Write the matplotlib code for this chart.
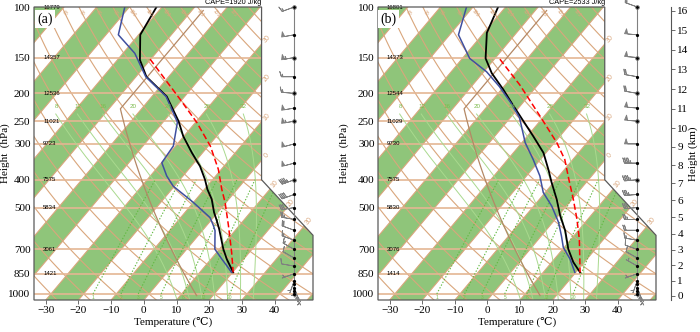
import numpy as np
import matplotlib
matplotlib.use('Agg')
import matplotlib.pyplot as plt
from matplotlib.patches import Polygon

plt.rcParams['font.family'] = ['Liberation Serif', 'DejaVu Serif', 'DejaVu Sans']

# ============================================================
# DATA
# ============================================================
P_TICKS = [100, 150, 200, 250, 300, 400, 500, 700, 850, 1000]
T_TICKS = [-30, -20, -10, 0, 10, 20, 30, 40]

HGT_P = [100, 150, 200, 250, 300, 400, 500, 700, 850]
HGT_A = ['16779', '14357', '12536', '11021', '9723', '7575', '5834', '3061', '1421']
HGT_B = ['16801', '14373', '12544', '11029', '9730', '7575', '5830', '3076', '1414']

CAPE_A = 1920
CAPE_B = 2533

# panel (a) sounding
TEMP_A_P = [100, 125, 153, 175, 205, 250, 282, 322, 359, 399, 432, 468, 520, 556, 595, 698, 756, 841]
TEMP_A_T = [-71.7, -69.5, -63.1, -56.8, -45.5, -35.5, -30.2, -23.3, -17.3, -12.4, -9.1, -5.2, -1.1, 1.9, 4.8, 11.2, 14.8, 20.2]
DEWP_A_P = [100, 125, 145, 175, 205, 252, 305, 349, 388, 421, 480, 542, 578, 602, 698, 756, 797, 841]
DEWP_A_T = [-81.4, -76.2, -66.4, -57.0, -45.7, -35.6, -30.7, -29.9, -25.0, -20.4, -10.0, -1.0, 2.1, 3.9, 8.6, 13.3, 16.5, 19.7]
PARC_A_P = [152, 179, 210, 253, 305, 368, 432, 480, 578, 717, 841]
PARC_A_T = [-60.2, -50.3, -40.6, -29.5, -19.4, -10.9, -4.7, -0.3, 6.7, 14.6, 20.2]

# panel (b) sounding
TEMP_B_P = [100, 123, 151, 170, 194, 216, 240, 282, 322, 368, 409, 468, 534, 602, 698, 775, 841]
TEMP_B_T = [-72.3, -69.1, -62.9, -57.2, -49.4, -43.4, -37.4, -28.2, -20.8, -15.0, -10.6, -4.7, 0.6, 6.0, 11.7, 16.6, 21.3]
DEWP_B_P = [100, 125, 151, 168, 189, 216, 243, 297, 340, 388, 443, 494, 563, 628, 688, 756, 841]
DEWP_B_T = [-82.0, -77.3, -67.8, -59.2, -51.5, -43.6, -37.2, -29.0, -22.2, -15.9, -10.6, -4.5, 1.8, 6.2, 9.7, 14.8, 19.7]
PARC_B_P = [152, 187, 240, 297, 340, 399, 468, 550, 644, 756, 841]
PARC_B_T = [-58.3, -45.5, -31.3, -19.3, -12.5, -6.1, 0.4, 6.7, 12.5, 17.8, 21.3]

# winds (kt, direction deg)
WIND_P = [100, 125, 150, 175, 200, 225, 250, 300, 350, 400, 450, 500,
          550, 600, 650, 700, 750, 800, 850, 900, 925, 950, 975, 1000]
WSPD_A = [15, 50, 55, 15, 15, 50, 55, 50, 50, 45, 40, 30, 25, 20, 15, 15, 10, 10, 5, 5, 5, 5, 5, 5]
WDIR_A = [250, 260, 260, 270, 275, 260, 260, 255, 255, 250, 250, 260, 280, 290, 290, 300, 300, 280, 250, 200, 180, 160, 150, 150]
WSPD_B = [15, 50, 50, 20, 20, 50, 50, 50, 45, 45, 35, 30, 25, 20, 15, 10, 10, 5, 5, 5, 5, 5, 5, 5]
WDIR_B = [290, 275, 275, 280, 280, 275, 275, 270, 270, 265, 265, 265, 270, 270, 280, 290, 300, 300, 250, 200, 180, 160, 150, 150]
CIRCLE_P = [100, 150, 200, 250, 400]

MIX_W = [1, 2, 3, 5, 8, 12, 20]
MOIST_T = [8, 12, 16, 20, 24, 28, 32]

# ============================================================
# STYLE
# ============================================================
GREEN_BAND = '#8fc57a'
TAN = '#d9a67c'
ISOBAR = '#e4b693'
MOIST = '#a9d98e'
MIXC = '#62b942'
LABG = '#7cbb4c'
STDC = '#b48865'
FRAME = '#5a5a5a'

YB, YT = -0.9346217, 44.061
XL, XR1, XR2 = -19.0, 18.6, 27.1
Y_C1, Y_C2 = 17.53479, 9.0


def yc(p):
    return 132.182 - 44.061 * np.log10(np.asarray(p, dtype=float))


def xc(t, p):
    return 0.54 * np.asarray(t, dtype=float) + 0.90692 * yc(p)


def std_atm_p(z):
    z = np.asarray(z, dtype=float)
    return np.where(z <= 11, 1013.25 * (1 - 0.0065 * z * 1000 / 288.15) ** 5.25588,
                    226.32 * np.exp(-(z - 11) * 1000 / 6341.62))


def moist_line(t0, p_top):
    Rd, cp, Lv, eps = 287.04, 1005.7, 2.501e6, 0.622

    def slope(T, p):
        es = 6.112 * np.exp(17.67 * (T - 273.15) / (T - 29.65))
        rs = eps * es / (p - es)
        return (Rd * T + Lv * rs) / p / (cp + Lv * Lv * rs * eps / (Rd * T * T))

    res_p, res_t = [], []
    for ps in (np.arange(1000.0, 1051.0, 2.0), np.arange(1000.0, p_top - 0.1, -2.0)):
        T = t0 + 273.15
        pts = [T]
        for i in range(1, len(ps)):
            dp = ps[i] - ps[i - 1]
            k1 = slope(T, ps[i - 1])
            k2 = slope(T + k1 * dp, ps[i])
            T = T + 0.5 * (k1 + k2) * dp
            pts.append(T)
        res_p.append(ps)
        res_t.append(np.array(pts) - 273.15)
    p = np.concatenate([res_p[0][::-1], res_p[1][1:]])
    t = np.concatenate([res_t[0][::-1], res_t[1][1:]])
    return p, t


def draw_panel(ax, tag, hgts, cape, tp, tt, dp_, dt, pp, pt, wspd, wdir, ylab_x):
    verts = [(XL, YT), (XR1, YT), (XR1, Y_C1), (XR2, Y_C2), (XR2, YB), (XL, YB)]
    clip = Polygon(verts, closed=True, transform=ax.transData)

    def clipped(arts):
        for a in arts:
            a.set_clip_path(clip)

    # isotherm bands
    for t0 in range(-110, 60, 20):
        xs = [xc(t0, 1050), xc(t0 + 10, 1050), xc(t0 + 10, 100), xc(t0, 100)]
        clipped(ax.fill(xs, [YB, YB, YT, YT], color=GREEN_BAND, lw=0, zorder=1))
    # isotherms
    for t in range(-110, 70, 10):
        clipped(ax.plot([xc(t, 1050), xc(t, 100)], [YB, YT], color=TAN, lw=0.8, zorder=2))
    # dry adiabats
    pr = np.logspace(2, np.log10(1050), 120)
    for th in range(-30, 180, 10):
        t = (th + 273.15) * (pr / 1000.0) ** 0.2857 - 273.15
        clipped(ax.plot(xc(t, pr), yc(pr), color=TAN, lw=0.8, zorder=2))
    # isobars
    for p in P_TICKS[1:]:
        clipped(ax.plot([XL, XR2], [yc(p), yc(p)], color=ISOBAR, lw=1.2, zorder=2.5))
    # moist adiabats
    for t0 in MOIST_T:
        mp, mt = moist_line(t0, 235.0)
        clipped(ax.plot(xc(mt, mp), yc(mp), color=MOIST, lw=0.7, zorder=3))
        ax.text(xc(mt[-1], 235.0), yc(222.0), str(t0), color=LABG, fontsize=4.5,
                ha='center', va='center', family='Liberation Sans', zorder=6)
    # mixing ratio
    pm = np.linspace(1000, 400, 60)
    for w in MIX_W:
        e = w * pm / (622.0 + w)
        le = np.log(e / 6.112)
        td = 243.5 * le / (17.67 - le)
        clipped(ax.plot(xc(td, pm), yc(pm), color=MIXC, lw=0.8, ls=(0, (1.2, 1.6)), zorder=3))
        ax.text(xc(td[0], 1000), yc(1000) - 0.55, str(w), color=LABG, fontsize=3.5,
                ha='center', va='center', family='Liberation Sans', zorder=6)
    # standard atmosphere
    zs = np.linspace(0, 16, 65)
    ts = np.where(zs <= 11, 15 - 6.5 * zs, -56.5)
    ax.plot(xc(ts, std_atm_p(zs)), yc(std_atm_p(zs)), color=STDC, lw=0.9, zorder=3.5)

    # dry adiabat labels at top and left edge
    for th in range(60, 170, 10):
        t = (th + 273.15) * 0.1 ** 0.2857 - 273.15
        ax.text(xc(t, 100) + 0.4, YT - 1.0, str(th), color=TAN, fontsize=3.5,
                rotation=-50, ha='center', va='center', family='Liberation Sans', zorder=6)
    for th in range(-30, 50, 10):
        t = (th + 273.15) * (pr / 1000.0) ** 0.2857 - 273.15
        xx = xc(t, pr)
        yy = np.interp(XL, xx[::-1], yc(pr)[::-1])
        if YB + 1 < yy < YT - 1:
            ax.text(XL + 0.6, yy - 1.0, str(th), color=TAN, fontsize=3.5,
                    rotation=-50, ha='center', va='center', family='Liberation Sans', zorder=6)
    # isotherm labels along the right border
    for t in [-30, -20, -10, 0]:
        y = (XR1 - 0.54 * t) / 0.90692
        ax.text(XR1 + 0.9, y + 0.7, str(abs(t)), color=TAN, fontsize=5, rotation=50,
                ha='center', va='center', family='Liberation Sans', zorder=6, clip_on=False)
    k = (Y_C1 - Y_C2) / (XR2 - XR1)
    for t in [10, 20, 30]:
        x = (0.54 * t + 0.90692 * (Y_C1 + k * XR1)) / (1 + 0.90692 * k)
        y = Y_C1 - k * (x - XR1)
        ax.text(x + 0.7, y + 0.7, str(t), color=TAN, fontsize=5, rotation=50,
                ha='center', va='center', family='Liberation Sans', zorder=6, clip_on=False)

    # frame
    ax.add_patch(Polygon(verts, closed=True, fill=False, ec=FRAME, lw=0.9, zorder=8, clip_on=False))

    # sounding
    ax.plot(xc(tt, tp), yc(tp), color='black', lw=1.3, zorder=5)
    ax.plot(xc(dt, dp_), yc(dp_), color='#3f4f9f', lw=1.1, zorder=5.2)
    ax.plot(xc(pt, pp), yc(pp), color='red', lw=1.1, ls=(0, (4, 2)), zorder=5.4)

    # heights
    for p, h in zip(HGT_P, hgts):
        ax.text(-17.5, yc(p), h, fontsize=4.3, ha='left', va='center',
                family='Liberation Sans', zorder=7, clip_on=False)

    ax.text(-17.2, 42.2, tag, fontsize=10, ha='center', va='center', zorder=9,
            bbox=dict(fc='white', ec='none', pad=1.8))
    ax.text(XR1, YT + 0.15, f'CAPE={cape} J/kg', fontsize=5.3, ha='right', va='bottom',
            family='Liberation Sans', clip_on=False)

    # wind barbs
    wx = 24.0
    ax.plot([wx, wx], [yc(1000), yc(100)], color='#808080', lw=0.8, zorder=9, clip_on=False)
    spd = np.array(wspd, dtype=float)
    rad = np.deg2rad(np.array(wdir, dtype=float))
    u = -spd * np.sin(rad)
    v = -spd * np.cos(rad)
    ax.barbs(np.full(len(WIND_P), wx), yc(WIND_P), u, v, length=4.3, color='#808080',
             linewidth=0.6, zorder=9, clip_on=False)
    ax.plot(np.full(len(WIND_P), wx), yc(WIND_P), 'o', ms=1.3, color='black', zorder=10, clip_on=False)
    ax.plot(np.full(len(CIRCLE_P), wx), yc(CIRCLE_P), 'o', ms=2.6, mfc='none', mec='#606060',
            mew=0.6, zorder=10, clip_on=False)

    # axes
    ax.set_xlim(XL, XR2)
    ax.set_ylim(YB, YT)
    for s in ax.spines.values():
        s.set_visible(False)
    ax.set_xticks(xc(T_TICKS, 1050))
    ax.set_xticklabels([str(t).replace('-', '\u2212') for t in T_TICKS])
    ax.set_yticks(yc(P_TICKS))
    ax.set_yticklabels([str(p) for p in P_TICKS])
    ax.tick_params(axis='x', direction='out', length=3, width=0.6, color='#555555',
                   labelsize=8, pad=1.5)
    ax.tick_params(axis='y', length=0, labelsize=8, pad=2.5)
    ax.set_xlabel('Temperature (\u2103)', fontsize=8, labelpad=1)
    ax.set_ylabel('Height  (hPa)', fontsize=8)
    ax.yaxis.set_label_coords(ylab_x, 0.5)


fig = plt.figure(figsize=(7.0, 3.32), dpi=100)
ax_a = fig.add_axes([34 / 700, 32 / 332, 279 / 700, 293 / 332])
ax_b = fig.add_axes([378 / 700, 32 / 332, 278 / 700, 293 / 332])

draw_panel(ax_a, '(a)', HGT_A, CAPE_A, TEMP_A_P, TEMP_A_T, DEWP_A_P, DEWP_A_T,
           PARC_A_P, PARC_A_T, WSPD_A, WDIR_A, -0.086)
draw_panel(ax_b, '(b)', HGT_B, CAPE_B, TEMP_B_P, TEMP_B_T, DEWP_B_P, DEWP_B_T,
           PARC_B_P, PARC_B_T, WSPD_B, WDIR_B, -0.104)

# height (km) scale on the right of panel (b)
ax_h = fig.add_axes([670 / 700, 32 / 332, 1 / 700, 293 / 332])
ax_h.set_ylim(YB, YT)
ax_h.set_xticks([])
for name, s in ax_h.spines.items():
    s.set_visible(name == 'right')
ax_h.spines['right'].set_color('#555555')
ax_h.spines['right'].set_linewidth(0.8)
km = np.arange(0, 17)
ax_h.yaxis.tick_right()
ax_h.set_yticks(yc(std_atm_p(km)))
ax_h.set_yticklabels([str(k) for k in km])
ax_h.tick_params(axis='y', direction='out', length=3, width=0.6, color='#555555',
                 labelsize=8, pad=1.5)
ax_h.yaxis.set_label_position('right')
ax_h.set_ylabel('Height (km)', fontsize=8, rotation=90, labelpad=0)
ax_h.patch.set_visible(False)

fig.savefig('out.png', dpi=100)
